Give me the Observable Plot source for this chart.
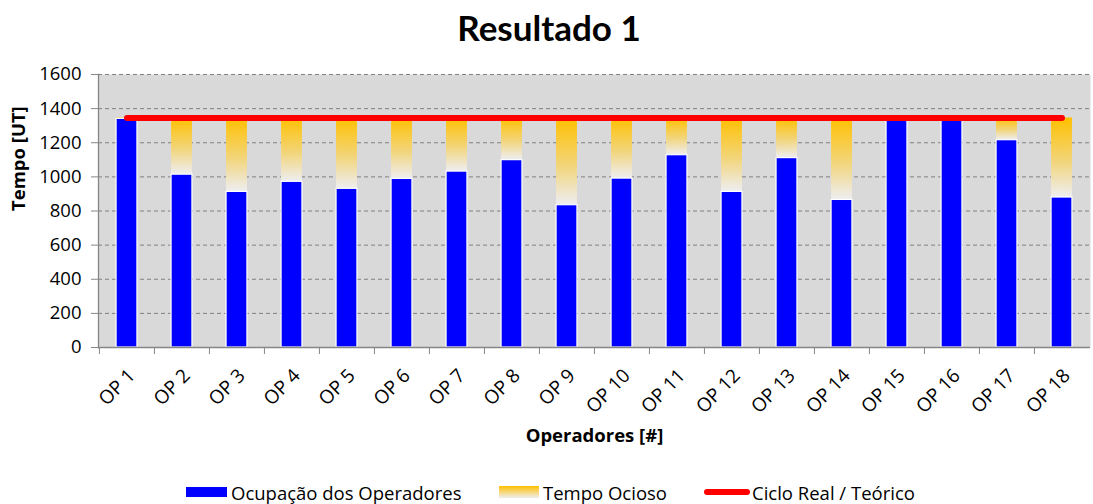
<!DOCTYPE html>
<html>
<head>
<meta charset="utf-8">
<script src="https://cdn.jsdelivr.net/npm/d3@7"></script>
<script src="https://cdn.jsdelivr.net/npm/@observablehq/plot@0.6"></script>
<style>
  html, body { margin: 0; padding: 0; background: #fff; }
  body { width: 1093px; height: 504px; overflow: hidden; position: relative; font-family: "Open Sans", sans-serif; color: #000; }
  #title { height: 55px; line-height: 55px; text-align: center; font-family: Lato, "Open Sans", sans-serif; font-weight: bold; font-size: 35px; padding-left: 5px; }
  #chart svg { display: block; }
  #legend { position: absolute; left: 0; top: 460px; width: 1093px; height: 44px; font-size: 18.5px; }
  .item { position: absolute; top: 19px; height: 26px; display: flex; align-items: center; white-space: nowrap; }
  .sw { display: inline-block; margin-right: 4px; }
</style>
</head>
<body>
<div id="title">Resultado 1</div>
<div id="chart"></div>
<div id="legend"></div>
<script>
// ---- data ----
const operators = ["OP 1","OP 2","OP 3","OP 4","OP 5","OP 6","OP 7","OP 8","OP 9","OP 10","OP 11","OP 12","OP 13","OP 14","OP 15","OP 16","OP 17","OP 18"];
const occupation = [1340, 1013, 912, 971, 930, 988, 1031, 1098, 834, 990, 1127, 912, 1110, 865, 1345, 1345, 1215, 879];
const cycleTime = 1345;
const yTicks = [0, 200, 400, 600, 800, 1000, 1200, 1400, 1600];
const seriesNames = ["Ocupação dos Operadores", "Tempo Ocioso", "Ciclo Real / Teórico"];
const seriesColors = ["#0000FF", "#FFC000", "#FF0000"];

const rows = operators.map((op, i) => ({op, occ: occupation[i], cycle: cycleTime}));

// ---- layout ----
const W = 1093, H = 405, ml = 98, mr = 3, mt = 19, mb = 113;
const bw = (W - ml - mr) / operators.length;
const barW = 21;
const inset = (bw - barW) / 2;

const defs = () => {
  const d = d3.create("svg:defs");
  const g = d.append("linearGradient").attr("id", "idleGrad").attr("x1", 0).attr("y1", 0).attr("x2", 0).attr("y2", 1);
  g.append("stop").attr("offset", "0%").attr("stop-color", "#FFC000");
  g.append("stop").attr("offset", "55%").attr("stop-color", "#F2D57A");
  g.append("stop").attr("offset", "100%").attr("stop-color", "#EEEEF2");
  return d.node();
};

const chart = Plot.plot({
  width: W, height: H,
  marginLeft: ml, marginRight: mr, marginTop: mt, marginBottom: mb,
  style: {fontFamily: "'Open Sans', sans-serif", fontSize: "17px", color: "#000", background: "transparent", overflow: "visible"},
  x: {type: "band", domain: operators, padding: 0},
  y: {domain: [0, 1600]},
  marks: [
    defs,
    Plot.frame({fill: "#D9D9D9", stroke: null}),
    Plot.gridY(yTicks.filter(d => d > 0), {stroke: "#808080", strokeOpacity: 1, strokeDasharray: "4 3", strokeWidth: 1}),
    Plot.barY(rows, {x: "op", y1: "occ", y2: "cycle", fill: "url(#idleGrad)", insetLeft: inset, insetRight: inset}),
    Plot.barY(rows, {x: "op", y: "occ", fill: seriesColors[0], stroke: "#fff", strokeWidth: 1.2, insetLeft: inset, insetRight: inset}),
    Plot.lineY(rows, {x: "op", y: "cycle", stroke: seriesColors[2], strokeWidth: 6, strokeLinecap: "round"}),
    Plot.ruleY([0], {stroke: "#868686", strokeWidth: 1.3}),
    Plot.frame({anchor: "left", stroke: "#868686", strokeWidth: 1.3}),
    Plot.axisY(yTicks, {tickSize: 7, tickPadding: 10, stroke: "#868686", fontSize: 18.5, tickFormat: d3.format("d"), label: null}),
    Plot.axisX({tickSize: 7, dx: -bw / 2, stroke: "#868686", tickFormat: () => "", label: null}),
    Plot.axisX({tickSize: 0, tickRotate: -45, tickPadding: 25, dx: 5, fontSize: 19, label: null}),
    Plot.text(["Tempo [UT]"], {frameAnchor: "left", dx: -79, rotate: -90, fontWeight: "bold", fontSize: 18.5}),
    Plot.text(["Operadores [#]"], {frameAnchor: "bottom", dy: 94, fontWeight: "bold", fontSize: 18.5})
  ]
});
document.getElementById("chart").appendChild(chart);

// ---- legend ----
const legend = document.getElementById("legend");
const lefts = [186, 499, 704];
const swatches = [
  `<span class="sw" style="width:41px;height:10px;background:${seriesColors[0]}"></span>`,
  `<span class="sw" style="width:40px;height:12px;background:linear-gradient(#FFC000,#EEEEF2)"></span>`,
  `<span class="sw" style="width:46px;height:6px;border-radius:3px;background:${seriesColors[2]};margin-right:2px"></span>`
];
seriesNames.forEach((name, i) => {
  const el = document.createElement("div");
  el.className = "item";
  el.style.left = lefts[i] + "px";
  el.innerHTML = swatches[i] + `<span>${name}</span>`;
  legend.appendChild(el);
});
</script>
</body>
</html>
